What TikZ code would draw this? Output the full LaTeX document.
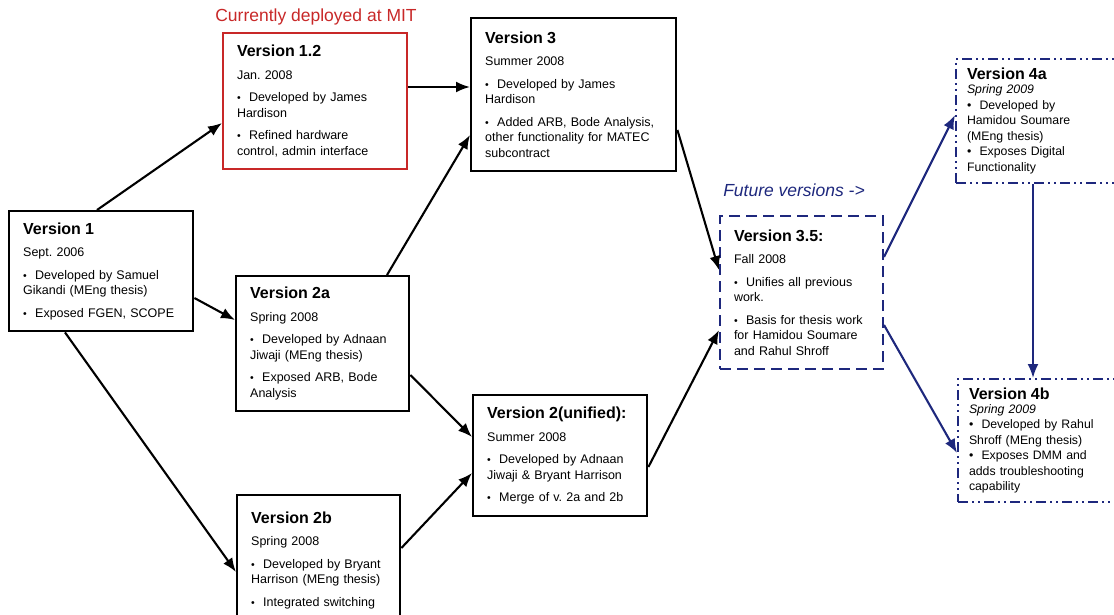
\documentclass[tikz,border=0pt]{standalone}
\usepackage{fontspec}
\setmainfont{Liberation Sans}
\usetikzlibrary{arrows.meta}

\definecolor{deployred}{RGB}{200,40,40}
\definecolor{futureblue}{RGB}{30,40,125}

\frenchspacing
\newcommand{\vtitle}[1]{{\fontsize{16}{18}\selectfont\bfseries #1}}
\newcommand{\bul}{{\fontsize{10.5}{10}\selectfont\textbullet}\ \ }
\newcommand{\bigbul}{\textbullet\ \ }

\begin{document}
\begin{tikzpicture}[
  x=1pt, y=-1pt,
  version node/.style={
    draw, line width=2.4pt, anchor=north west, align=left,
    inner xsep=14pt, inner ysep=0pt,
    font=\fontsize{12.5}{15.5}\selectfont
  },
  deployed node/.style={
    draw=deployred, line width=2pt
  },
  future node/.style={
    draw=futureblue, line width=2pt, dash pattern=on 11pt off 6pt
  },
  plan node/.style={
    draw=futureblue, line width=2pt, inner xsep=11pt,
    dash pattern=on 10pt off 4pt on 2pt off 4pt on 2pt off 4pt,
    font=\fontsize{12.3}{15.5}\selectfont
  },
  caption node/.style={
    font=\fontsize{17.5}{20}\selectfont
  },
  link/.style={
    line width=2.1pt, -{Latex[length=14pt,width=11pt]}
  }
  ]
  \clip (0,0) rectangle (1114,615);

  \node[caption node, text=deployred] (deployed) at (316,17) {Currently deployed at MIT};
  \node[caption node, text=futureblue, font=\fontsize{17.5}{20}\selectfont\itshape] (future) at (794,190) {Future versions ->};

  \node[version node, text width=156pt, minimum height=120pt] (v1) at (8,210) {
    \vtitle{Version 1}\\[7pt]
    Sept. 2006\\[7pt]
    \bul Developed by Samuel\\
    Gikandi (MEng thesis)\\[7pt]
    \bul Exposed FGEN, SCOPE};
  \node[version node, deployed node, text width=156pt, minimum height=136pt] (v12) at (222,32) {
    \vtitle{Version 1.2}\\[7pt]
    Jan. 2008\\[7pt]
    \bul Developed by James\\
    Hardison\\[7pt]
    \bul Refined hardware\\
    control, admin interface};
  \node[version node, text width=145pt, minimum height=135pt] (v2a) at (235,275) {
    \vtitle{Version 2a}\\[7pt]
    Spring 2008\\[7pt]
    \bul Developed by Adnaan\\
    Jiwaji (MEng thesis)\\[7pt]
    \bul Exposed ARB, Bode\\
    Analysis};
  \node[version node, text width=135pt, minimum height=130pt] (v2b) at (236,494) {
    \vtitle{Version 2b}\\[7pt]
    Spring 2008\\[7pt]
    \bul Developed by Bryant\\
    Harrison (MEng thesis)\\[7pt]
    \bul Integrated switching};
  \node[version node, text width=177pt, minimum height=153pt] (v3) at (470,17) {
    \vtitle{Version 3}\\[7pt]
    Summer 2008\\[7pt]
    \bul Developed by James\\
    Hardison\\[7pt]
    \bul Added ARB, Bode Analysis,\\
    other functionality for MATEC\\
    subcontract};
  \node[version node, text width=146pt, minimum height=121pt] (v2u) at (472,394) {
    \vtitle{Version 2(unified):}\\[7pt]
    Summer 2008\\[7pt]
    \bul Developed by Adnaan\\
    Jiwaji \& Bryant Harrison\\[7pt]
    \bul Merge of v. 2a and 2b};
  \node[version node, future node, text width=135pt, minimum height=153pt] (v35) at (719,215) {
    \vtitle{Version 3.5:}\\[7pt]
    Fall 2008\\[7pt]
    \bul Unifies all previous\\
    work.\\[7pt]
    \bul Basis for thesis work\\
    for Hamidou Soumare\\
    and Rahul Shroff};
  \node[version node, plan node, text width=158pt, minimum height=124pt] (v4a) at (955,58) {
    \vtitle{Version 4a}\\[-1.5pt]
    \textit{Spring 2009}\\
    \bigbul Developed by\\
    Hamidou Soumare\\
    (MEng thesis)\\
    \bigbul Exposes Digital\\
    Functionality};
  \node[version node, plan node, text width=158pt, minimum height=123pt] (v4b) at (957,378) {
    \vtitle{Version 4b}\\[-1.5pt]
    \textit{Spring 2009}\\
    \bigbul Developed by Rahul\\
    Shroff (MEng thesis)\\
    \bigbul Exposes DMM and\\
    adds troubleshooting\\
    capability};

  \draw[link] ([xshift=89pt]v1.north west) -- ([yshift=-91pt]v12.north west);
  \draw[link] ([yshift=-88pt]v1.north east) -- ([yshift=-45pt]v2a.north west);
  \draw[link] ([xshift=57pt]v1.south west) -- ([yshift=-78pt]v2b.north west);
  \draw[link] ([yshift=-55pt]v12.north east) -- ([yshift=-70pt]v3.north west);
  \draw[link] ([xshift=152pt]v2a.north west) -- ([yshift=-118pt]v3.north west);
  \draw[link] ([yshift=-100pt]v2a.north east) -- ([yshift=-43pt]v2u.north west);
  \draw[link] ([yshift=-54pt]v2b.north east) -- ([yshift=-79pt]v2u.north west);
  \draw[link] ([yshift=-113pt]v3.north east) -- ([yshift=-55pt]v35.north west);
  \draw[link] ([yshift=-73pt]v2u.north east) -- ([yshift=-115pt]v35.north west);
  \draw[link, futureblue] ([yshift=-42pt]v35.north east) -- ([yshift=-57pt]v4a.north west);
  \draw[link, futureblue] ([yshift=-110pt]v35.north east) -- ([yshift=-75pt]v4b.north west);
  \draw[link, futureblue] ([xshift=78pt]v4a.south west) -- ([xshift=76pt]v4b.north west);
\end{tikzpicture}
\end{document}
